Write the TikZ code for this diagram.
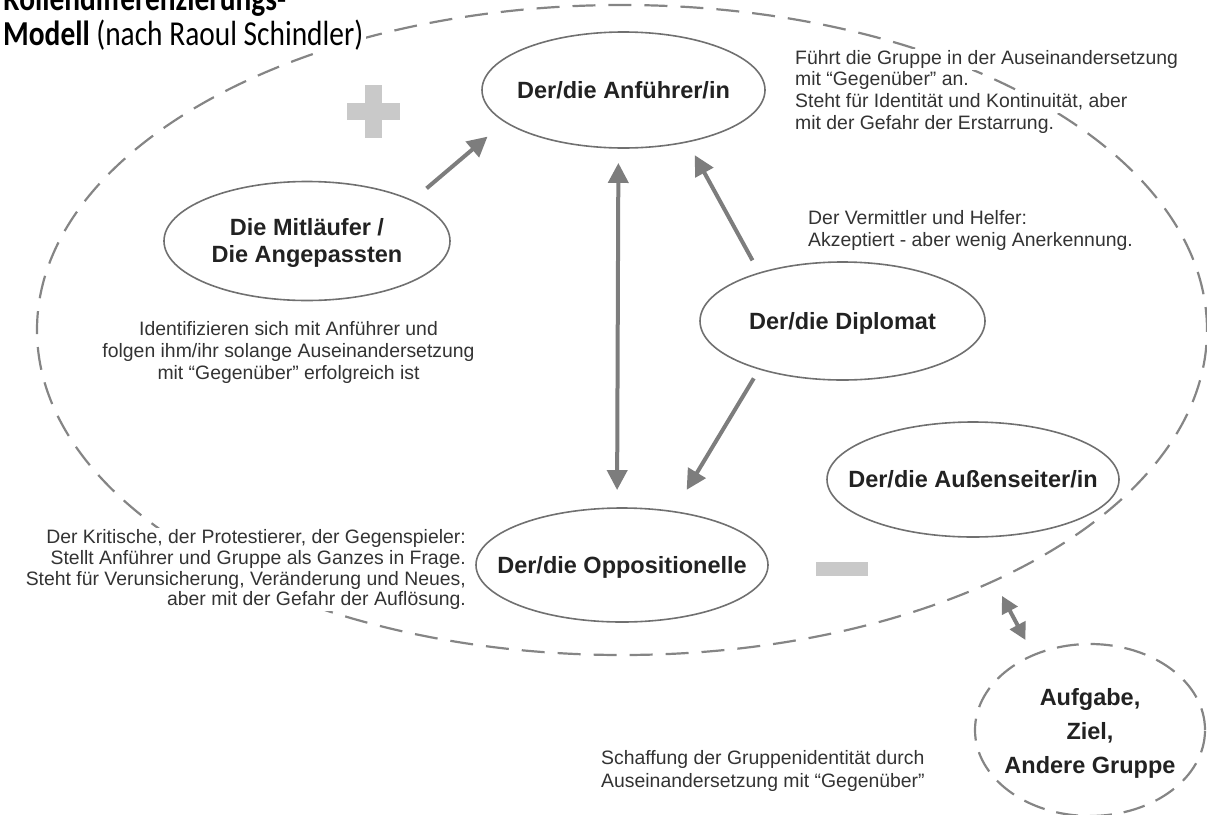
\documentclass[tikz,border=0pt]{standalone}
\usepackage{fontspec}
\setmainfont{Liberation Sans}
\newfontfamily\titlefont{Carlito}
\usetikzlibrary{shapes.geometric,arrows.meta}
\definecolor{edgec}{HTML}{707070}
\definecolor{dashc}{HTML}{858585}
\definecolor{arrowc}{HTML}{7D7D7D}
\definecolor{signc}{HTML}{C9C9C9}
\definecolor{txtc}{HTML}{333333}
\definecolor{ntxtc}{HTML}{222222}
\begin{document}
\begin{tikzpicture}[x=1pt,y=-1pt,
  role/.style={ellipse, draw=edgec, line width=1.6pt, inner sep=0pt, outer sep=0pt,
    text=ntxtc, font=\fontsize{23.5}{27}\selectfont\bfseries,
    text height=16.8pt, text depth=0pt},
  groupring/.style={ellipse, draw=dashc, line width=2.2pt, dash pattern=on 23pt off 13pt,
    inner sep=0pt, outer sep=0pt},
  body/.style={text=txtc, font=\fontsize{19.4}{21.7}\selectfont, fill=white,
    inner xsep=3pt, inner ysep=1.5pt, text height=14pt, text depth=4.5pt},
  conn/.style={draw=arrowc, line width=4pt,
    {Triangle[length=20pt,width=20pt]}-{Triangle[length=20pt,width=20pt]}},
  oneway/.style={draw=arrowc, line width=4pt, -{Triangle[length=20pt,width=20pt]}},
  smallconn/.style={draw=arrowc, line width=4pt,
    {Triangle[length=17pt,width=17pt]}-{Triangle[length=17pt,width=17pt]}},
  signfill/.style={fill=signc}
]
\useasboundingbox (0,0) rectangle (1207,814);
\clip (0,0) rectangle (1207,814);

% group boundary
\node[groupring, minimum width=1170pt, minimum height=650pt] (grp) at (622,330) {};

% title
\node[anchor=base west, inner sep=3pt, fill=white, text=black,
  font=\titlefont\fontsize{35}{35}\selectfont] (title1) at (0,10)
  {\scalebox{0.84}[1]{\bfseries Rollendifferenzierungs-}};
\node[anchor=base west, inner sep=3pt, fill=white, text=black,
  font=\titlefont\fontsize{35}{35}\selectfont] (title2) at (0,45)
  {\scalebox{0.84}[1]{\textbf{Modell} (nach Raoul Schindler)}};

% explanatory texts
\node[body, anchor=base west] (fa1) at (792,64) {Führt die Gruppe in der Auseinandersetzung};
\node[body, anchor=base west] (fa2) at (792,85.7) {mit “Gegenüber” an.};
\node[body, anchor=base west] (fa3) at (792,107.3) {Steht für Identität und Kontinuität, aber};
\node[body, anchor=base west] (fa4) at (792,129) {mit der Gefahr der Erstarrung.};

\node[body, anchor=base west] (vm1) at (805,224) {Der Vermittler und Helfer:};
\node[body, anchor=base west] (vm2) at (805,246) {Akzeptiert - aber wenig Anerkennung.};

\node[body, anchor=base] (id1) at (288.5,335) {Identifizieren sich mit Anführer und};
\node[body, anchor=base] (id2) at (288.5,357) {folgen ihm/ihr solange Auseinandersetzung};
\node[body, anchor=base] (id3) at (288.5,379) {mit “Gegenüber” erfolgreich ist};

\node[body, anchor=base east] (kr1) at (469,543) {Der Kritische, der Protestierer, der Gegenspieler:};
\node[body, anchor=base east] (kr2) at (469,564) {Stellt Anführer und Gruppe als Ganzes in Frage.};
\node[body, anchor=base east] (kr3) at (469,585) {Steht für Verunsicherung, Veränderung und Neues,};
\node[body, anchor=base east] (kr4) at (469,605) {aber mit der Gefahr der Auflösung.};

\node[body, anchor=base west] (sg1) at (598,764) {Schaffung der Gruppenidentität durch};
\node[body, anchor=base west] (sg2) at (598,787) {Auseinandersetzung mit “Gegenüber”};

% plus and minus
\fill[signfill] (365,85) rectangle (382,138);
\fill[signfill] (347,103) rectangle (400,120);
\fill[signfill] (816,562) rectangle (868,576);

% roles
\node[role, minimum width=283pt, minimum height=116pt] (anf) at (623.5,90)
  {\makebox[0pt]{Der/die Anführer/in}};
\node[role, minimum width=286pt, minimum height=119pt, text height=20pt, text depth=31.2pt] (mit) at (307,241)
  {\makebox[0pt]{\begin{tabular}[t]{@{}c@{}}Die Mitläufer /\\Die Angepassten\end{tabular}}};
\node[role, minimum width=285pt, minimum height=118pt] (dip) at (842.5,321)
  {\makebox[0pt]{Der/die Diplomat}};
\node[role, minimum width=292pt, minimum height=115pt] (aus) at (973,479.5)
  {\makebox[0pt]{Der/die Außenseiter/in}};
\node[role, minimum width=292pt, minimum height=114pt] (opp) at (622,565)
  {\makebox[0pt]{Der/die Oppositionelle}};
\node[role, draw=dashc, line width=2.2pt, dash pattern=on 22pt off 12pt,
  minimum width=230pt, minimum height=172pt, text height=20pt, text depth=70pt,
  font=\fontsize{23.5}{34}\selectfont\bfseries] (aufg) at (1090,730)
  {\makebox[0pt]{\begin{tabular}[t]{@{}c@{}}Aufgabe,\\Ziel,\\Andere Gruppe\end{tabular}}};

% connectors
\draw[oneway, shorten <=19pt, shorten >=23pt] (mit.21) -- (anf.195);
\draw[conn, shorten <=15pt, shorten >=18pt] (anf.265) -- (opp.95);
\draw[oneway, shorten <=14.5pt, shorten >=15.3pt] (dip.150) -- (anf.321);
\draw[oneway, shorten <=11pt, shorten >=25.5pt] (dip.210) -- (opp.46);
\draw[smallconn, shorten <=17pt, shorten >=17pt] (grp.326) -- (aufg.127);
\end{tikzpicture}
\end{document}
